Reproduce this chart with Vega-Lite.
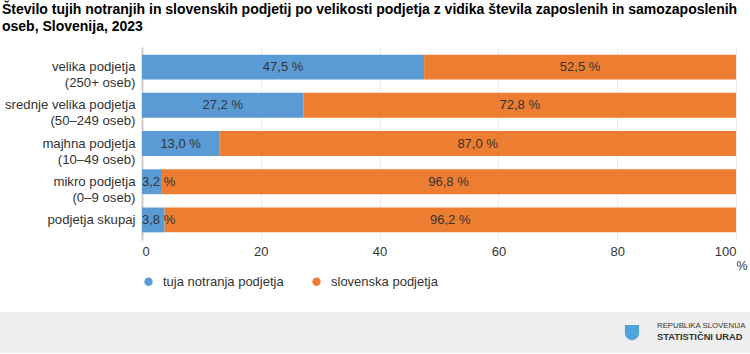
{
  "$schema": "https://vega.github.io/schema/vega-lite/v6.json",
  "padding": {"top": 3, "left": 0, "right": 0, "bottom": 0},
  "spacing": 23,
  "align": "none",
  "background": "white",
  "resolve": {"legend": {"color": "independent"}, "scale": {"color": "independent"}},
  "title": {
    "text": ["Število tujih notranjih in slovenskih podjetij po velikosti podjetja z vidika števila zaposlenih in samozaposlenih", "oseb, Slovenija, 2023"],
    "anchor": "start",
    "font": "Liberation Sans",
    "fontSize": 14,
    "fontWeight": "bold",
    "color": "#000000",
    "lineHeight": 17,
    "offset": 13,
    "dx": 2
  },
  "config": {
    "font": "Liberation Sans",
    "view": {"stroke": null}
  },
  "vconcat": [
    {
      "width": 594,
      "height": 193,
      "data": {
        "values": [
          {"category": "velika podjetja|(250+ oseb)", "series": "tuja notranja podjetja", "value": 47.5},
          {"category": "velika podjetja|(250+ oseb)", "series": "slovenska podjetja", "value": 52.5},
          {"category": "srednje velika podjetja|(50–249 oseb)", "series": "tuja notranja podjetja", "value": 27.2},
          {"category": "srednje velika podjetja|(50–249 oseb)", "series": "slovenska podjetja", "value": 72.8},
          {"category": "majhna podjetja|(10–49 oseb)", "series": "tuja notranja podjetja", "value": 13.0},
          {"category": "majhna podjetja|(10–49 oseb)", "series": "slovenska podjetja", "value": 87.0},
          {"category": "mikro podjetja|(0–9 oseb)", "series": "tuja notranja podjetja", "value": 3.2},
          {"category": "mikro podjetja|(0–9 oseb)", "series": "slovenska podjetja", "value": 96.8},
          {"category": "podjetja skupaj", "series": "tuja notranja podjetja", "value": 3.8},
          {"category": "podjetja skupaj", "series": "slovenska podjetja", "value": 96.2}
        ]
      },
      "transform": [
        {"calculate": "indexof(['tuja notranja podjetja','slovenska podjetja'], datum.series)", "as": "k"},
        {"stack": "value", "groupby": ["category"], "sort": [{"field": "k", "order": "ascending"}], "as": ["v0", "v1"]},
        {"calculate": "max((datum.v0 + datum.v1) / 2, 2.8)", "as": "mid"},
        {"calculate": "replace(format(datum.value, '.1f'), '.', ',') + ' %'", "as": "lbl"}
      ],
      "encoding": {
        "y": {
          "field": "category",
          "type": "nominal",
          "sort": null,
          "scale": {"paddingInner": 0.35, "paddingOuter": 0.2},
          "axis": {
            "title": null,
            "labelExpr": "split(datum.label, '|')",
            "labelFontSize": 13.2,
            "labelColor": "#333333",
            "labelLineHeight": 16,
            "labelPadding": 7,
            "labelLimit": 300,
            "ticks": false,
            "domainColor": "#cccccc",
            "domainWidth": 2,
            "grid": false
          }
        }
      },
      "layer": [
        {
          "mark": {"type": "bar"},
          "encoding": {
            "x": {
              "field": "v0",
              "type": "quantitative",
              "scale": {"domain": [0, 100], "nice": false},
              "axis": {
                "values": [0, 20, 40, 60, 80, 100],
                "title": "%",
                "titleAnchor": "end",
                "titleAlign": "left",
                "titleFontSize": 12.5,
                "titleFontWeight": "normal",
                "titleColor": "#333333",
                "titlePadding": 1,
                "labelFontSize": 13,
                "labelColor": "#333333",
                "labelPadding": 5,
                "domain": false,
                "ticks": false,
                "grid": true,
                "gridColor": "#ececec",
                "gridWidth": 1
              }
            },
            "x2": {"field": "v1"},
            "color": {
              "field": "series",
              "type": "nominal",
              "scale": {"domain": ["tuja notranja podjetja", "slovenska podjetja"], "range": ["#5B9BD5", "#ED7D31"]},
              "legend": {
                "title": null,
                "orient": "bottom",
                "direction": "horizontal",
                "symbolType": "circle",
                "symbolSize": 70,
                "symbolStrokeWidth": 0,
                "labelFontSize": 13,
                "labelColor": "#333333",
                "labelOffset": 8,
                "columnPadding": 26,
                "offset": 3
              }
            }
          }
        },
        {
          "mark": {"type": "text", "fontSize": 13, "color": "#333333", "align": "center", "baseline": "middle"},
          "encoding": {
            "x": {"field": "mid", "type": "quantitative"},
            "text": {"field": "lbl"}
          }
        }
      ]
    },
    {
      "width": 608,
      "height": 41,
      "data": {"values": [{"a": "REPUBLIKA SLOVENIJA", "b": "STATISTIČNI URAD"}]},
      "layer": [
        {
          "mark": {"type": "rect", "color": "#efefef"},
          "encoding": {"x": {"value": -142}, "x2": {"value": 608}, "y": {"value": 0}, "y2": {"value": 41}}
        },
        {
          "mark": {"type": "point", "shape": "M-1,-1 L1,-1 L1,0.2 Q1,0.9 0,1.2 Q-1,0.9 -1,0.2 Z", "filled": true, "color": "#4ea5dc", "size": 200, "opacity": 1},
          "encoding": {"x": {"value": 490}, "y": {"value": 20}}
        },
        {
          "mark": {"type": "text", "align": "left", "baseline": "middle", "fontSize": 7.8, "color": "#333333"},
          "encoding": {"x": {"value": 515}, "y": {"value": 14}, "text": {"field": "a"}}
        },
        {
          "mark": {"type": "text", "align": "left", "baseline": "middle", "fontSize": 9.3, "fontWeight": "bold", "color": "#333333"},
          "encoding": {"x": {"value": 515}, "y": {"value": 25}, "text": {"field": "b"}}
        }
      ]
    }
  ]
}
